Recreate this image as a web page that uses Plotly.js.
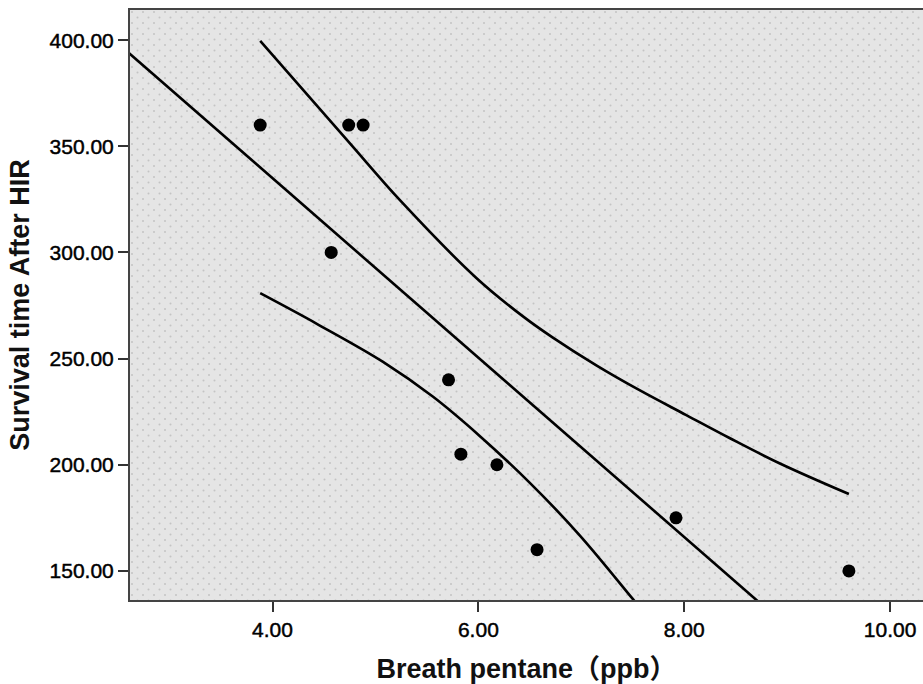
<!DOCTYPE html>
<html>
<head>
<meta charset="utf-8">
<script src="https://cdn.plot.ly/plotly-3.0.1.min.js"></script>
<style>
html,body{margin:0;padding:0;background:#fff;}
#chart{width:923px;height:684px;}
.xtick text, .ytick text { stroke:#000; stroke-width:0.45px; }
</style>
</head>
<body>
<div id="chart"></div>
<script>
// Observed data
const pentane = [3.88, 4.74, 4.88, 4.57, 5.71, 5.83, 6.18, 6.57, 7.92, 9.60];
const survival = [360, 360, 360, 300, 240, 205, 200, 160, 175, 150];

// Linear fit line
const fitX = [2.6, 9.0];
const fitY = [394.1, 123.7];

// Upper confidence band
const upperX = [3.88, 4.75, 5.24, 5.98, 6.43, 6.72, 7.15, 7.57, 8.02, 8.44, 8.93, 9.60];
const upperY = [399.7, 351.5, 324.5, 288.0, 270.0, 260.0, 246.7, 235.0, 223.4, 212.6, 200.6, 186.2];

// Lower confidence band (continues below axis)
const lowerX = [3.88, 4.43, 5.07, 5.56, 6.01, 6.50, 6.98, 7.50, 8.00, 9.60];
const lowerY = [280.8, 266.4, 248.6, 232.0, 213.7, 191.5, 167.0, 136.8, 107.0, 12.0];

const xTicks = [4, 6, 8, 10];
const yTicks = [150, 200, 250, 300, 350, 400];

const fontFam = 'Liberation Sans, Arial, Noto Sans CJK SC, sans-serif';

const lineStyle = {color: '#000', width: 2.6};

const traces = [
  {x: fitX, y: fitY, mode: 'lines', line: lineStyle, hoverinfo: 'skip', showlegend: false},
  {x: upperX, y: upperY, mode: 'lines', line: Object.assign({shape: 'spline', smoothing: 1}, lineStyle), hoverinfo: 'skip', showlegend: false},
  {x: lowerX, y: lowerY, mode: 'lines', line: Object.assign({shape: 'spline', smoothing: 1}, lineStyle), hoverinfo: 'skip', showlegend: false},
  {x: pentane, y: survival, mode: 'markers', marker: {color: '#000', size: 13}, showlegend: false}
];

// dotted background pattern
const W = 793, H = 590;
const svg = `<svg xmlns="http://www.w3.org/2000/svg" width="${W}" height="${H}">
<defs><pattern id="p" width="11" height="11" patternUnits="userSpaceOnUse">
<rect width="11" height="11" fill="#e5e5e5"/>
<circle cx="2" cy="2" r="1" fill="#c4c4c4"/>
<circle cx="7.5" cy="7.5" r="1" fill="#c4c4c4"/>
</pattern></defs>
<rect width="${W}" height="${H}" fill="url(#p)"/></svg>`;
const bgSrc = 'data:image/svg+xml;base64,' + btoa(svg);

const layout = {
  width: 923, height: 684,
  margin: {l: 130, r: 0, t: 10, b: 84},
  paper_bgcolor: '#fff',
  plot_bgcolor: '#e5e5e5',
  showlegend: false,
  images: [{source: bgSrc, xref: 'paper', yref: 'paper', x: 0, y: 1, sizex: 1, sizey: 1,
            sizing: 'stretch', xanchor: 'left', yanchor: 'top', layer: 'below'}],
  xaxis: {
    range: [2.615, 10.32],
    tickvals: xTicks, tickformat: '.2f',
    ticks: 'outside', ticklen: 10, tickwidth: 2, tickcolor: '#333',
    showgrid: false, zeroline: false,
    showline: true, linecolor: '#444', linewidth: 2, mirror: true,
    tickfont: {family: fontFam, size: 21, color: '#000'},
    title: {text: '<b>Breath pentane（ppb）</b>', standoff: 22,
            font: {family: fontFam, size: 27, color: '#111'}}
  },
  yaxis: {
    range: [136.3, 414.2],
    tickvals: yTicks, tickformat: '.2f',
    ticks: 'outside', ticklen: 10, tickwidth: 2, tickcolor: '#333',
    showgrid: false, zeroline: false,
    showline: true, linecolor: '#444', linewidth: 2,
    tickfont: {family: fontFam, size: 21, color: '#000'},
    title: {text: '<b>Survival time After HIR</b>', standoff: 12,
            font: {family: fontFam, size: 27, color: '#111'}}
  }
};

Plotly.newPlot('chart', traces, layout, {displayModeBar: false, staticPlot: true});
</script>
</body>
</html>
